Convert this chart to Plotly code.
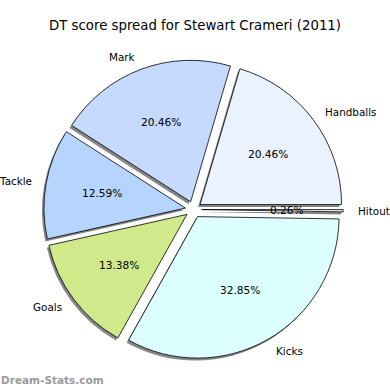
import numpy as np
import plotly.graph_objects as go

labels = ["Handballs", "Mark", "Tackle", "Goals", "Kicks", "Hitout"]
values = [20.46, 20.46, 12.59, 13.38, 32.85, 0.26]
colors = ["#eaf1ff", "#c6d9ff", "#b5d5ff", "#d0ea8b", "#dcffff", "#f4f4ff"]

W = H = 390
CX, CY, R = 193.5, 209.5, 141.5
PULL = 0.058
SHX, SHY = -2.0, 2.5

half = R * (1 + PULL)

def dom(cx, cy):
    return dict(x=[(cx - half) / W, (cx + half) / W],
                y=[1 - (cy + half) / H, 1 - (cy - half) / H])

vals = np.array(values)
# plotly counterclockwise: first slice spans [rotation, rotation + v0] clockwise from top
rot = 90 - vals[0] / vals.sum() * 360

fig = go.Figure()
# shadow
fig.add_trace(go.Pie(labels=labels, values=values, sort=False, direction="counterclockwise",
                     rotation=rot, pull=[PULL] * len(values), textinfo="none", hoverinfo="skip",
                     marker=dict(colors=["rgba(105,105,105,0.8)"] * len(values), line=dict(width=0)),
                     domain=dom(CX + SHX, CY + SHY), showlegend=False))
# main
fig.add_trace(go.Pie(labels=labels, values=values, sort=False, direction="counterclockwise",
                     rotation=rot, pull=[PULL] * len(values), textinfo="none",
                     marker=dict(colors=colors, line=dict(color="#000000", width=0.8)),
                     domain=dom(CX, CY), showlegend=False))

# text positions derived from data (matplotlib-like: pct at 0.6r, labels at 1.1r)
cum = np.concatenate([[0], np.cumsum(vals)]) / vals.sum() * 360
mid = np.deg2rad((cum[:-1] + cum[1:]) / 2)
dx, dy = np.cos(mid), -np.sin(mid)
off = PULL * R
pct_x = CX + dx * (off + 0.6 * R)
pct_y = CY + dy * (off + 0.6 * R)
lab_x = CX + dx * (off + 1.095 * R)
lab_y = CY + dy * (off + 1.095 * R)

font = dict(family="DejaVu Sans", size=10.6, color="#000")
lfont = dict(family="DejaVu Sans", size=10.4, color="#000")
for i, lab in enumerate(labels):
    fig.add_annotation(x=pct_x[i], y=pct_y[i], xref="x", yref="y", text=f"{vals[i]:.2f}%",
                       showarrow=False, xanchor="center", yanchor="middle", font=font, borderpad=0)
    fig.add_annotation(x=lab_x[i], y=lab_y[i], xref="x", yref="y", text=lab, showarrow=False,
                       xanchor="left" if dx[i] > 0 else "right", yanchor="middle",
                       font=lfont, borderpad=0)

fig.add_annotation(x=0, y=0.025, xref="paper", yref="paper", text="<b>Dream-Stats.com</b>", showarrow=False,
                   xanchor="left", yanchor="middle", borderpad=0,
                   font=dict(family="DejaVu Sans", size=10.5, color="#9a9a9a"))

fig.update_layout(
    width=W, height=H, margin=dict(l=0, r=0, t=0, b=0),
    paper_bgcolor="white", plot_bgcolor="rgba(0,0,0,0)",
    title=dict(text="DT score spread for Stewart Crameri (2011)", x=0.5, xanchor="center",
               y=1 - 25 / H, yanchor="middle", yref="container",
               font=dict(family="DejaVu Sans", size=13.3, color="#000")),
    xaxis=dict(range=[0, W], visible=False, fixedrange=True),
    yaxis=dict(range=[H, 0], visible=False, fixedrange=True),
)

fig.write_html("out.html", config={"displayModeBar": False, "staticPlot": True},
               post_script="document.body.style.margin='0';document.body.style.overflow='hidden';")
